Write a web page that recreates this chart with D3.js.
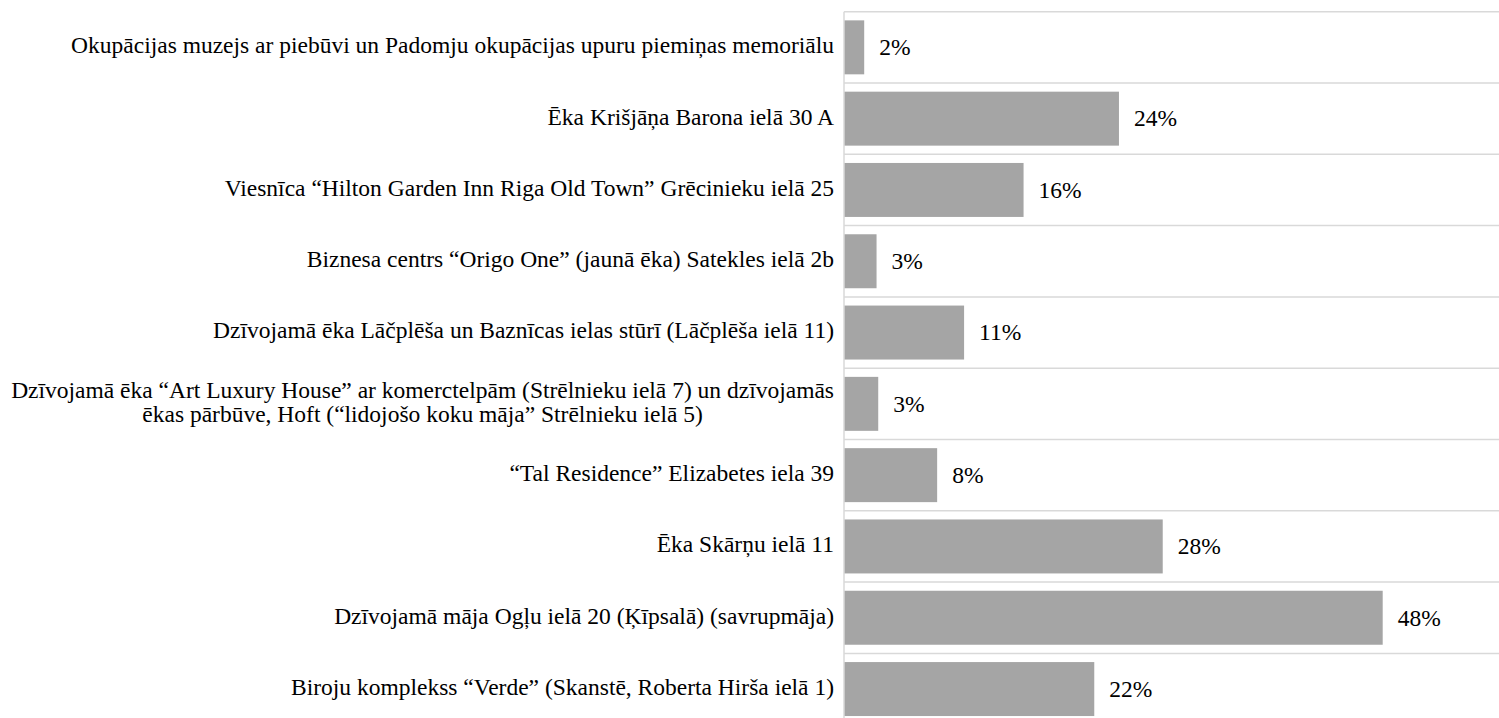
<!DOCTYPE html>
<html>
<head>
<meta charset="utf-8">
<script src="https://cdn.jsdelivr.net/npm/d3@7"></script>
<style>
  body { margin: 0; background: #fff; }
</style>
</head>
<body>
<script>
// categories top to bottom, long one split into two lines
let categories = [
  ["Okupācijas muzejs ar piebūvi un Padomju okupācijas upuru piemiņas memoriālu"],
  ["Ēka Krišjāņa Barona ielā 30 A"],
  ["Viesnīca “Hilton Garden Inn Riga Old Town” Grēcinieku ielā 25"],
  ["Biznesa centrs “Origo One” (jaunā ēka) Satekles ielā 2b"],
  ["Dzīvojamā ēka Lāčplēša un Baznīcas ielas stūrī (Lāčplēša ielā 11)"],
  ["Dzīvojamā ēka “Art Luxury House” ar komerctelpām (Strēlnieku ielā 7) un dzīvojamās",
   "ēkas pārbūve, Hoft (“lidojošo koku māja” Strēlnieku ielā 5)"],
  ["“Tal Residence” Elizabetes iela 39"],
  ["Ēka Skārņu ielā 11"],
  ["Dzīvojamā māja Ogļu ielā 20 (Ķīpsalā) (savrupmāja)"],
  ["Biroju komplekss “Verde” (Skanstē, Roberta Hirša ielā 1)"]
]
let values = [1.8, 24.5, 16.0, 2.9, 10.7, 3.05, 8.3, 28.4, 48.0, 22.3]
let labels = ["2%", "24%", "16%", "3%", "11%", "3%", "8%", "28%", "48%", "22%"]

let width = 1499
let height = 718
let margin = {top: 11.7, left: 844}
let step = 71.3
let fontSize = 23.5
let font = "'Times New Roman', 'Liberation Serif', Times, serif"

let svg = d3.select("body").append("svg")
  .attr("width", width)
  .attr("height", height)
  .attr("font-family", font)

let x = d3.scaleLinear()
  .domain([0, 48])
  .range([margin.left, 1382.7])

let y = d3.scaleBand()
  .domain(d3.range(categories.length))
  .range([margin.top, margin.top + step * categories.length])
  .paddingInner(0.243)
  .paddingOuter(0.1215)

// horizontal separators between categories
svg.append("g")
  .selectAll("line")
  .data(d3.range(categories.length + 1))
  .join("line")
  .attr("x1", margin.left)
  .attr("x2", width)
  .attr("y1", i => margin.top + i * y.step())
  .attr("y2", i => margin.top + i * y.step())
  .attr("stroke", "#d9d9d9")
  .attr("stroke-width", 1.5)

// bars
svg.append("g")
  .selectAll("rect")
  .data(values)
  .join("rect")
  .attr("x", x(0))
  .attr("y", (d, i) => y(i))
  .attr("width", d => x(d) - x(0))
  .attr("height", y.bandwidth())
  .attr("fill", "#a5a5a5")

// axis line
svg.append("line")
  .attr("x1", margin.left).attr("x2", margin.left)
  .attr("y1", margin.top).attr("y2", margin.top + step * categories.length)
  .attr("stroke", "#d9d9d9")
  .attr("stroke-width", 1.5)

// value labels
svg.append("g")
  .selectAll("text")
  .data(values)
  .join("text")
  .attr("x", d => x(d) + 15)
  .attr("y", (d, i) => y(i) + y.bandwidth() / 2)
  .attr("dy", "0.33em")
  .attr("font-family", font)
  .style("font-size", fontSize + "px")
  .attr("fill", "#000")
  .text((d, i) => labels[i])

// category labels, multi-line ones centred on each other
let lineH = 24
categories.forEach(function(lines, i) {
  let cy = y(i) + y.bandwidth() / 2
  let t = svg.append("text")
    .attr("font-family", font)
    .attr("fill", "#000")
    .style("font-size", fontSize + "px")
  lines.forEach(function(l, j) {
    t.append("tspan")
      .attr("y", cy + (j - (lines.length - 1) / 2) * lineH)
      .attr("dy", "0.25em")
      .text(l)
  })
  let maxW = 0
  t.selectAll("tspan").each(function() {
    maxW = Math.max(maxW, this.getComputedTextLength())
  })
  t.attr("text-anchor", "middle")
  t.selectAll("tspan").attr("x", margin.left - 10 - maxW / 2)
})
</script>
</body>
</html>
